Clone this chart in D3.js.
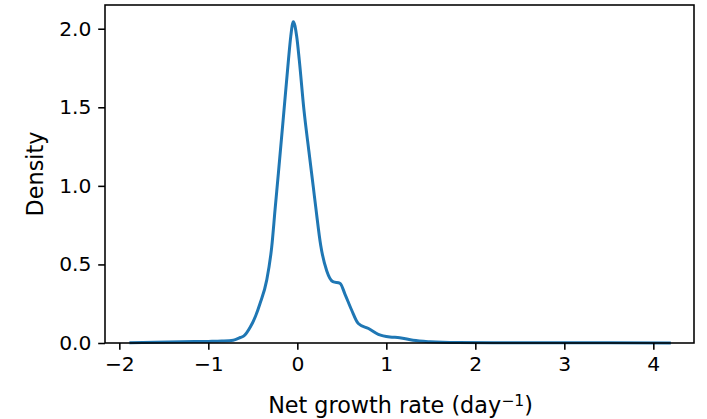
<!DOCTYPE html>
<html>
<head>
<meta charset="utf-8">
<script src="https://cdn.jsdelivr.net/npm/d3@7"></script>
<style>
  html, body { margin: 0; padding: 0; background: #fff; }
  svg { display: block; }
  text { font-family: "DejaVu Sans", sans-serif; fill: #000; }
</style>
</head>
<body>
<svg id="chart" width="707" height="419"></svg>
<script>
// Density curve (KDE) of net growth rate
const xValues = [-1.87, -1.6, -1.3, -1.0, -0.85, -0.72, -0.64, -0.6, -0.53, -0.47, -0.42, -0.344, -0.288, -0.25, -0.213, -0.15, -0.10, -0.074, -0.045, -0.007, 0.022, 0.075, 0.13, 0.18, 0.21, 0.263, 0.33, 0.40, 0.48, 0.536, 0.61, 0.685, 0.80, 0.91, 1.04, 1.15, 1.30, 1.49, 1.8, 2.2, 2.8, 3.5, 4.18];
const densityValues = [0.002, 0.004, 0.008, 0.01, 0.012, 0.017, 0.035, 0.045, 0.10, 0.17, 0.25, 0.40, 0.61, 0.85, 1.08, 1.48, 1.80, 1.95, 2.045, 1.95, 1.80, 1.48, 1.22, 0.99, 0.85, 0.62, 0.46, 0.39, 0.38, 0.31, 0.21, 0.124, 0.092, 0.055, 0.038, 0.034, 0.017, 0.008, 0.003, 0.002, 0.001, 0.001, 0.0005];
const xTicks = [-2, -1, 0, 1, 2, 3, 4];
const yTicks = [0.0, 0.5, 1.0, 1.5, 2.0];
const xLabel = "Net growth rate (day";
const xLabelSup = "\u22121";
const yLabel = "Density";

(function () {
const svg = d3.select("#chart");
const mLeft = 105, mRight = 694, mTop = 5, mBottom = 343;
const tickFont = 20.3;
const labelFont = 22.3;

const x = d3.scaleLinear().domain([-2.161, 4.457]).range([mLeft, mRight]);
const y = d3.scaleLinear().domain([0, 2.151]).range([mBottom, mTop]);

const data = xValues.map((v, i) => ({x: v, y: densityValues[i]}));

const line = d3.line()
  .x(d => x(d.x))
  .y(d => y(d.y))
  .curve(d3.curveMonotoneX);

svg.append("path")
  .datum(data)
  .attr("d", line)
  .attr("fill", "none")
  .attr("stroke", "#1f77b4")
  .attr("stroke-width", 3)
  .attr("stroke-linejoin", "round")
  .attr("stroke-linecap", "square");

const fmtY = d => d3.format(".1f")(d);
const fmtX = d => (d < 0 ? "\u2212" + Math.abs(d) : String(d));

const xAxis = d3.axisBottom(x).tickValues(xTicks).tickFormat(fmtX).tickSizeInner(6.8).tickSizeOuter(0).tickPadding(6.8);
const yAxis = d3.axisLeft(y).tickValues(yTicks).tickFormat(fmtY).tickSizeInner(6.8).tickSizeOuter(0).tickPadding(6.8);

const gx = svg.append("g").attr("transform", `translate(0,${mBottom})`).call(xAxis);
const gy = svg.append("g").attr("transform", `translate(${mLeft},0)`).call(yAxis);

[gx, gy].forEach(g => {
  g.select(".domain").remove();
  g.selectAll(".tick line").attr("stroke", "#000").attr("stroke-width", 1.56);
  g.selectAll(".tick text").attr("font-size", tickFont).attr("font-family", "DejaVu Sans").attr("fill", "#000");
});

// frame
svg.append("rect")
  .attr("x", mLeft).attr("y", mTop)
  .attr("width", mRight - mLeft).attr("height", mBottom - mTop)
  .attr("fill", "none").attr("stroke", "#000").attr("stroke-width", 1.56);

// x label
const xl = svg.append("text")
  .attr("x", (mLeft + mRight) / 2 + 1)
  .attr("y", 413)
  .attr("text-anchor", "middle")
  .attr("font-size", labelFont);
xl.append("tspan").text(xLabel);
xl.append("tspan").text(xLabelSup).attr("font-size", labelFont * 0.7).attr("dy", -7.5);
xl.append("tspan").text(")").attr("dy", 7.5);

// y label
svg.append("text")
  .attr("transform", `translate(43,${(mTop + mBottom) / 2}) rotate(-90)`)
  .attr("text-anchor", "middle")
  .attr("font-size", labelFont)
  .text(yLabel);
})();
</script>
</body>
</html>
